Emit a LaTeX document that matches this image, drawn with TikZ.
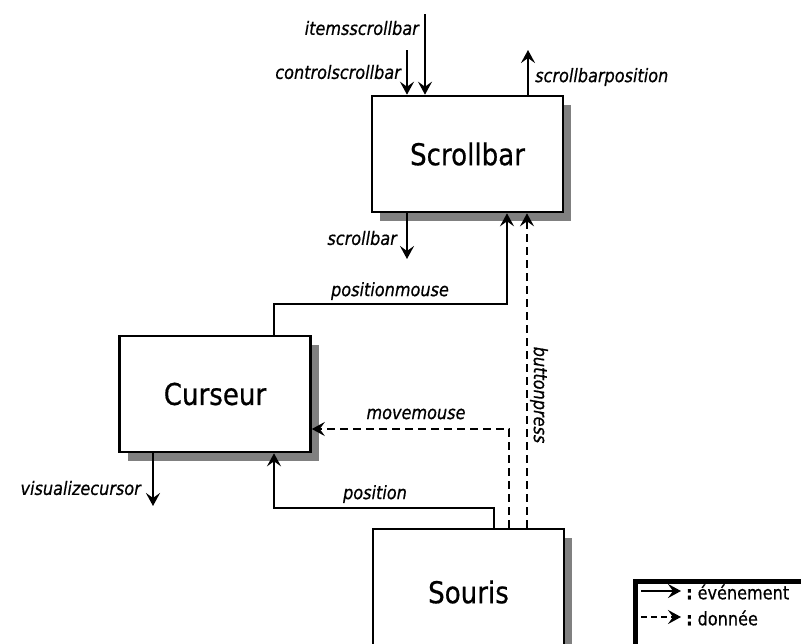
\documentclass[tikz,border=0pt]{standalone}
\usepackage{fontspec}
\setmainfont{DejaVu Sans}[FakeStretch=0.87, FakeBold=0.6]
\usetikzlibrary{arrows.meta,shadows}
\begin{document}
\begin{tikzpicture}[x=1pt,y=-1pt,
 box/.style={draw, line width=2.6pt, fill=white, minimum width=191pt, minimum height=116pt, inner sep=0pt,
   font=\fontsize{30}{36}\selectfont,
   drop shadow={shadow xshift=8pt, shadow yshift=-9pt, opacity=1, fill=gray}},
 ev/.style={line width=2.8pt, -{Stealth[length=13pt,width=14pt,inset=5pt]}},
 dt/.style={ev, dash pattern=on 8pt off 5pt},
 lbl/.style={font=\fontsize{18.5}{22}\selectfont\itshape, inner sep=0pt},
 leg/.style={font=\fontsize{18.5}{22}\selectfont, inner sep=0pt}]
\clip (0,0) rectangle (801,643);
% boxes
\node[box] (sb) at (467.5,154) {Scrollbar};
\node[box] (cu) at (215,394) {Curseur};
\node[box, minimum height=126pt] (so) at (468.5,592) {Souris};
% scrollbar inputs/outputs
\coordinate (ia) at (425,14);
\draw[ev] (ia) -- (ia |- sb.north);
\node[lbl, anchor=east] (il) at (419,28) {itemsscrollbar};
\coordinate (ca) at (407,50);
\draw[ev] (ca) -- (ca |- sb.north);
\node[lbl, anchor=east] (cl) at (401,72) {controlscrollbar};
\coordinate (sp) at (528,50);
\draw[ev] (sp |- sb.north) -- (sp);
\node[lbl, anchor=west] (spl) at (535,77) {scrollbarposition};
\coordinate (sbo) at (407,259);
\draw[ev] (sbo |- sb.south) -- (sbo);
\node[lbl, anchor=east] (sbl) at (397,238) {scrollbar};
% positionmouse
\coordinate (pmL) at (274,304);
\coordinate (pmR) at (507,304);
\draw[ev] (cu.north -| pmL) -- (pmL) -- (pmR) -- (pmR |- sb.south);
\node[lbl] (pml) at (390,291) {positionmouse};
% movemouse
\coordinate (mm) at (509,429);
\draw[dt] (so.north -| mm) -- (mm) -- (mm -| cu.east);
\node[lbl] (mml) at (416,414) {movemouse};
% position
\coordinate (pa) at (494,508);
\coordinate (pb) at (274,508);
\draw[ev] (so.north -| pa) -- (pa) -- (pb) -- (pb |- cu.south);
\node[lbl] (pl) at (375,494) {position};
% buttonpress
\coordinate (bp) at (527,300);
\draw[dt] (so.north -| bp) -- (bp |- sb.south);
\node[lbl, rotate=-90] (bpl) at (539,395) {buttonpress};
% visualizecursor
\coordinate (vc) at (153,506);
\draw[ev] (vc |- cu.south) -- (vc);
\node[lbl, anchor=east] (vcl) at (141,488) {visualizecursor};
% legend
\node[draw, line width=4.5pt, minimum width=220pt, minimum height=110pt, anchor=north west] (lg) at (633,579) {};
\coordinate (l1a) at (641,591);
\coordinate (l1b) at (681,591);
\draw[ev] (l1a) -- (l1b);
\node[leg, anchor=west] (l1t) at (686,592) {\textbf{:}\hspace{5pt}événement};
\coordinate (l2a) at (641,617);
\coordinate (l2b) at (681,617);
\draw[ev, dash pattern=on 6pt off 4pt] (l2a) -- (l2b);
\node[leg, anchor=west] (l2t) at (686,618) {\textbf{:}\hspace{5pt}donnée};
\end{tikzpicture}
\end{document}
